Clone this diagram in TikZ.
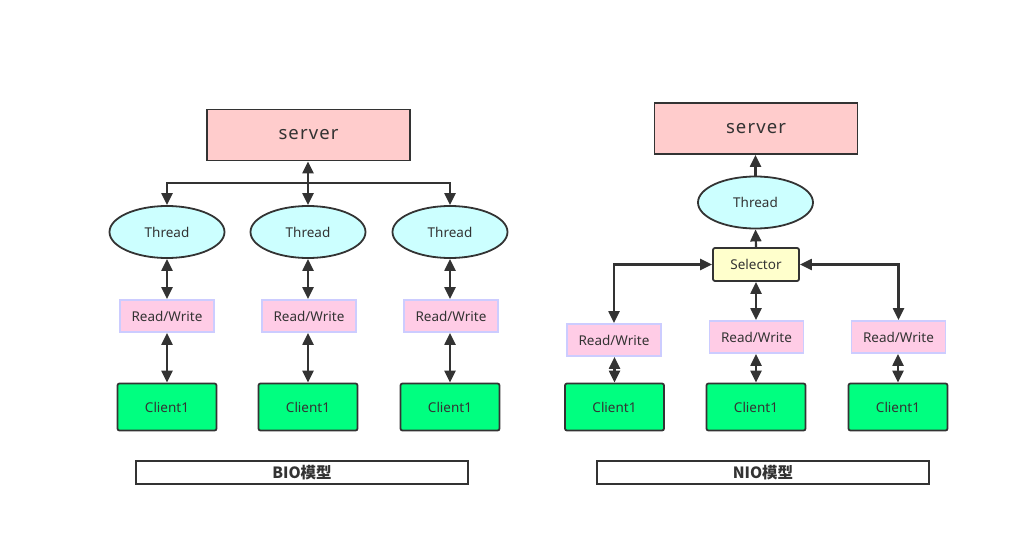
\documentclass[tikz,border=0pt]{standalone}
\usepackage{fontspec}
\setmainfont{Noto Sans}
\newfontfamily\cjk{Noto Sans CJK SC}
\usetikzlibrary{arrows.meta,shapes.geometric}
\definecolor{line}{HTML}{333333}
\definecolor{srvfill}{HTML}{FFCCCC}
\definecolor{thfill}{HTML}{CCFFFF}
\definecolor{rwfill}{HTML}{FFCCE6}
\definecolor{rwline}{HTML}{CCCCFF}
\definecolor{clfill}{HTML}{00FF80}
\definecolor{selfill}{HTML}{FFFFCC}
\begin{document}
\begin{tikzpicture}[x=1pt,y=-1pt,
    every node/.style={align=center, font=\fontsize{13.5}{15}\selectfont, text=line},
    srvbox/.style={draw=line, line width=1.8pt, fill=srvfill, minimum width=203pt, minimum height=51pt, font=\fontsize{18.5}{20}\selectfont\addfontfeature{LetterSpace=6}},
    thell/.style={ellipse, draw=line, line width=1.8pt, fill=thfill, minimum width=115pt, minimum height=52pt, inner sep=0pt},
    rwbox/.style={draw=rwline, line width=1.8pt, fill=rwfill, minimum width=94pt, minimum height=32pt},
    clbox/.style={draw=line, line width=1.8pt, fill=clfill, rounded corners=2pt, minimum width=99pt, minimum height=47pt},
    selbox/.style={draw=line, line width=1.8pt, fill=selfill, rounded corners=2pt, minimum width=86pt, minimum height=33pt},
    tagbox/.style={draw=line, line width=1.8pt, minimum width=332pt, minimum height=23pt, inner sep=0pt, font=\fontsize{15.5}{17}\selectfont\cjk\bfseries},
    link/.style={draw=line, line width=2.2pt, -{Triangle[length=12pt,width=11pt]}},
    dlink/.style={draw=line, line width=2.2pt, {Triangle[length=12pt,width=11pt]}-{Triangle[length=12pt,width=11pt]}}]
    \useasboundingbox (0,0) rectangle (1010,546);

    % BIO
    \node[srvbox](srvB) at (308.5,135){server};
    \node[thell](thB1) at (167,232){Thread};
    \node[thell](thB2) at (308,232){Thread};
    \node[thell](thB3) at (450,232){Thread};
    \node[rwbox](rwB1) at (167,316){Read/Write};
    \node[rwbox](rwB2) at (309,316){Read/Write};
    \node[rwbox](rwB3) at (451,316){Read/Write};
    \node[clbox](clB1) at (167,407){Client1};
    \node[clbox](clB2) at (308,407){Client1};
    \node[clbox](clB3) at (450,407){Client1};
    \node[tagbox](tagB) at (302,472.5){BIO模型};
    \coordinate(busB) at (308,183);

    \path[dlink] (srvB.south -| thB2) -- (thB2.north);
    \path[link] (busB) -| (thB1.north);
    \path[link] (busB) -| (thB3.north);
    \foreach \i in {1,2,3}{
        \path[dlink] (thB\i.south) -- (thB\i.south |- rwB\i.north);
        \path[dlink] (clB\i.north |- rwB\i.south) -- (clB\i.north);
    }

    % NIO
    \node[srvbox](srvN) at (756,128.5){server};
    \node[thell](thN) at (755.5,202.5){Thread};
    \node[selbox](sel) at (756,264.5){Selector};
    \node[rwbox](rwN1) at (614,340){Read/Write};
    \node[rwbox](rwN2) at (756.5,337){Read/Write};
    \node[rwbox](rwN3) at (898.5,337){Read/Write};
    \node[clbox](clN1) at (614.5,407){Client1};
    \node[clbox](clN2) at (756,407){Client1};
    \node[clbox](clN3) at (898,407){Client1};
    \node[tagbox](tagN) at (763,472.5){NIO模型};

    \path[link] (thN.north) -- (thN.north |- srvN.south);
    \path[link] (sel.north) -- (thN.south);
    \path[dlink] (rwN1.north) |- (sel.west);
    \path[dlink] (rwN3.north) |- (sel.east);
    \path[dlink] (sel.south) -- (sel.south |- rwN2.north);
    \foreach \i in {1,2,3}{
        \path[dlink] (clN\i.north |- rwN\i.south) -- (clN\i.north);
    }
\end{tikzpicture}
\end{document}
